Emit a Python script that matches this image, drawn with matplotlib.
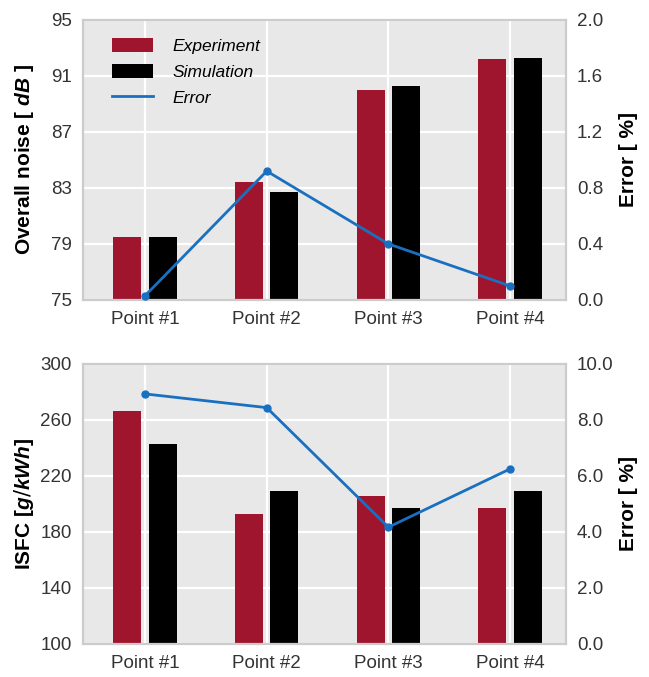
import numpy as np
import matplotlib.pyplot as plt
from matplotlib.lines import Line2D

plt.rcParams['font.family'] = ['Liberation Sans', 'DejaVu Sans']
plt.rcParams['mathtext.fontset'] = 'custom'
plt.rcParams['mathtext.it'] = 'Liberation Sans:italic:bold'

puntos = ['Point #1', 'Point #2', 'Point #3', 'Point #4']

ruido_exp = [79.5, 83.4, 90.0, 92.2]
ruido_sim = [79.5, 82.7, 90.3, 92.3]
ruido_err = [0.03, 0.92, 0.40, 0.10]

isfc_exp = [266.5, 192.9, 206.0, 196.9]
isfc_sim = [242.6, 209.0, 197.4, 209.0]
isfc_err = [8.93, 8.44, 4.17, 6.25]

rojo = '#a0152e'
azul = '#1a70c0'
fondo = '#e8e8e8'
gris = '#333333'

fig = plt.figure(figsize=(6.49, 6.77), dpi=100)
ax1 = fig.add_axes([0.128, 0.557, 0.744, 0.4136])
ax2 = fig.add_axes([0.128, 0.0488, 0.744, 0.4136])

x = np.arange(len(puntos))
w = 0.23
d = 0.145


def panel(ax, exp, sim, err, ylim, yticks, etiq, err_lim, err_ticks, leyenda):
    ax.set_facecolor(fondo)
    b1 = ax.bar(x - d, exp, w, color=rojo, zorder=2)
    b2 = ax.bar(x + d, sim, w, color='black', zorder=2)
    ax.set_ylim(ylim)
    ax.set_yticks(yticks)
    ax.set_xlim(-0.51, 3.46)
    ax.set_xticks(x)
    ax.set_xticklabels(puntos)
    ax.grid(color='white', lw=1.6)
    ax.set_axisbelow(True)
    for s in ax.spines.values():
        s.set_color('#cccccc')
        s.set_linewidth(1.6)
    ax.tick_params(length=0, labelsize=13.5, labelcolor=gris, pad=8)
    ax.set_ylabel(etiq, fontsize=15, fontweight='bold')
    ax.yaxis.set_label_coords(-0.097, 0.5)

    ax_b = ax.twinx()
    ax_b.plot(x, err, '-o', color=azul, lw=2, ms=5, zorder=3)
    ax_b.set_ylim(err_lim)
    ax_b.set_yticks(err_ticks)
    ax_b.set_yticklabels([f'{t:.1f}' for t in err_ticks])
    ax_b.tick_params(length=0, labelsize=13.5, labelcolor=gris, pad=8)
    for s in ax_b.spines.values():
        s.set_visible(False)
    ax_b.set_ylabel('Error [ %]', fontsize=15, fontweight='bold')
    ax_b.yaxis.set_label_coords(1.11, 0.5)

    if leyenda:
        l1 = Line2D([], [], color=azul, lw=2)
        ax.legend([b1, b2, l1], ['Experiment', 'Simulation', 'Error'],
                  loc='upper left', frameon=False, prop={'style': 'italic', 'size': 12.5},
                  handlelength=2.4, handleheight=0.9, handletextpad=1.1,
                  borderaxespad=0.0, bbox_to_anchor=(0.045, 0.96), labelspacing=0.55)


panel(ax1, ruido_exp, ruido_sim, ruido_err, (75, 95), [75, 79, 83, 87, 91, 95],
      r'Overall noise [ $dB$ ]', (0, 2), [0.0, 0.4, 0.8, 1.2, 1.6, 2.0], True)
panel(ax2, isfc_exp, isfc_sim, isfc_err, (100, 300), [100, 140, 180, 220, 260, 300],
      r'ISFC [$g/kWh$]', (0, 10), [0.0, 2.0, 4.0, 6.0, 8.0, 10.0], False)

fig.savefig('out.png', dpi=100, facecolor='white')
